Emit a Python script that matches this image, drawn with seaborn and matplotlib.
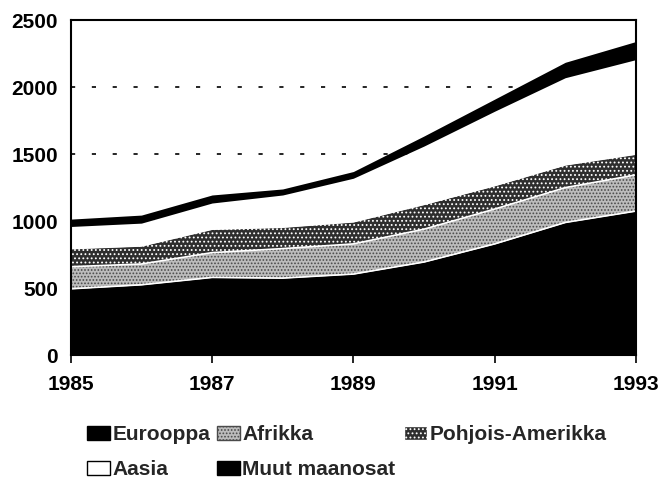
import numpy as np
import matplotlib
matplotlib.use('Agg')
import matplotlib.pyplot as plt
import seaborn as sns
from matplotlib.patches import Patch

# ── Data ──────────────────────────────────────────────────────────
years     = [1985, 1986, 1987, 1988, 1989, 1990, 1991, 1992, 1993]
eurooppa  = [495, 525, 580, 575, 605, 695, 830, 990, 1075]
afrikka   = [165, 155, 185, 220, 225, 245, 260, 260, 270]
pohjois   = [135, 135, 175, 160, 165, 185, 175, 170, 155]
aasia     = [165, 170, 195, 240, 325, 435, 555, 650, 705]
muut      = [55, 60, 60, 45, 50, 75, 90, 115, 135]

labels   = ['Eurooppa', 'Afrikka', 'Pohjois-Amerikka', 'Aasia', 'Muut maanosat']
yticks   = [0, 500, 1000, 1500, 2000, 2500]
xticks   = [1985, 1987, 1989, 1991, 1993]

# ── Style ─────────────────────────────────────────────────────────
sns.set_theme(style='white')
plt.rcParams['font.family'] = ['Liberation Sans', 'DejaVu Sans']
plt.rcParams['hatch.linewidth'] = 0.8

faces   = ['black', '#bcbcbc', '#2e2e2e', 'white', 'black']
hatches = [None, '.....', '....', None, None]
hcols   = ['black', '#4a4a4a', 'white', 'black', 'black']

fig = plt.figure(figsize=(6.61, 4.78), dpi=100)
ax = fig.add_axes([0.107, 0.257, 0.855, 0.701])

polys = ax.stackplot(years, eurooppa, afrikka, pohjois, aasia, muut,
                     colors=faces, linewidth=0)
for p, h, c in zip(polys, hatches, hcols):
    if h:
        p.set_hatch(h)
        p.set_edgecolor(c)
        p.set_linewidth(0)

# thin white seams between the textured bands, as in the scan
cum = np.cumsum([eurooppa, afrikka, pohjois], axis=0)
for row in cum:
    ax.plot(years, row, color='white', lw=1.2)

ax.set_xlim(1985, 1993)
ax.set_ylim(0, 2500)
ax.set_xticks(xticks)
ax.set_yticks(yticks)
ax.set_axisbelow(True)
ax.yaxis.grid(True, color='black', linestyle=(0, (2.5, 10)), linewidth=1.2)
ax.xaxis.grid(False)

for s in ax.spines.values():
    s.set_visible(True)
    s.set_color('black')
    s.set_linewidth(1.5)

ax.tick_params(axis='x', bottom=True, length=6, width=1.2, direction='out',
               pad=8, labelsize=15, color='black')
ax.tick_params(axis='y', left=False, pad=3, labelsize=15)
for t in ax.get_xticklabels() + ax.get_yticklabels():
    t.set_fontweight('bold')
    t.set_color('black')

# ── Legend, laid out like the original ────────────────────────────
handles = [Patch(facecolor=f, edgecolor='black', hatch=h, linewidth=1)
           for f, h in zip(faces, hatches)]
handles[1].set_edgecolor('#4a4a4a')
handles[2].set_edgecolor('white')
spots = [(0.1316, 0.090), (0.328, 0.090), (0.611, 0.090),
         (0.1316, 0.017), (0.328, 0.017)]
for hnd, lab, (x, y) in zip(handles, labels, spots):
    lg = fig.legend([hnd], [lab], loc='center left', bbox_to_anchor=(x, y),
                    frameon=False, fontsize=15, handlelength=1.1,
                    handleheight=0.65, handletextpad=0.12, borderpad=0,
                    borderaxespad=0)
    for t in lg.get_texts():
        t.set_fontweight('bold')

fig.savefig('out.png', dpi=100)
